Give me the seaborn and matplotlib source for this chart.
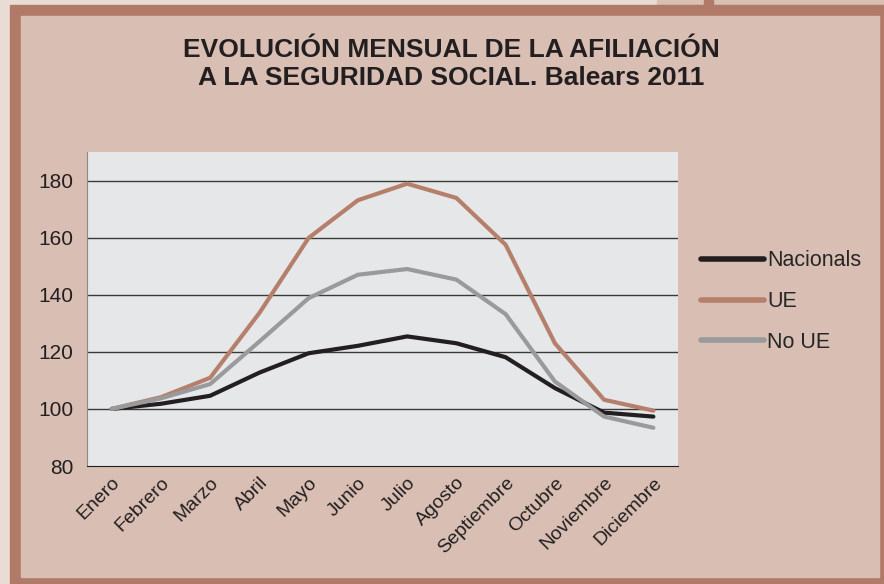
import matplotlib
matplotlib.use("Agg")
from matplotlib import pyplot as plt
from matplotlib.patches import Rectangle
import pandas as pd
import seaborn as sns

meses = ['Enero', 'Febrero', 'Marzo', 'Abril', 'Mayo', 'Junio', 'Julio',
         'Agosto', 'Septiembre', 'Octubre', 'Noviembre', 'Diciembre']
nacionals = [100, 101.8, 104.6, 112.7, 119.5, 122.1, 125.4, 123.0, 118.1, 107.3, 98.7, 97.3]
ue = [100, 104.1, 110.9, 133.6, 159.9, 173.1, 178.9, 173.9, 157.5, 123.0, 103.2, 99.4]
no_ue = [100, 103.7, 108.7, 123.6, 138.8, 147.0, 149.0, 145.3, 133.2, 109.6, 97.3, 93.4]
series = ['Nacionals', 'UE', 'No UE']
colores = ['#231f20', '#b57f6c', '#999a9c']

df = pd.DataFrame({'mes': meses * 3,
                   'valor': nacionals + ue + no_ue,
                   'serie': [s for s in series for _ in meses]})

sns.set_style('white')
plt.rcParams['font.family'] = ['Liberation Sans', 'DejaVu Sans']

fig = plt.figure(figsize=(8.84, 5.84), dpi=100)
fig.patch.set_facecolor('#e9dcd4')

W, H = 884, 584
def px_rect(x0, y0, x1, y1, color):
    fig.patches.append(Rectangle((x0 / W, 1 - y1 / H), (x1 - x0) / W, (y1 - y0) / H,
                                 transform=fig.transFigure, color=color, zorder=-10))

# marco
px_rect(657, 0, 884, 6, '#dabfb3')
px_rect(704, 0, 713, 6, '#b07a68')
px_rect(10, 5, 884, 584, '#b07a68')
px_rect(21, 16, 879, 577, '#d9bfb3')

ax = fig.add_axes([87 / W, 1 - 466 / H, (678 - 87) / W, (466 - 152) / H])
ax.set_facecolor('#e6e7e8')
sns.lineplot(data=df, x='mes', y='valor', hue='serie', hue_order=series,
             palette=colores, linewidth=3, sort=False, ax=ax, legend=False)

ax.set_xlim(-0.5, 11.5)
ax.set_ylim(80, 190)
ax.set_yticks([80, 100, 120, 140, 160, 180])
for v in [100, 120, 140, 160, 180]:
    ax.axhline(v, color='#3a3a3a', linewidth=1, zorder=0.5)
ax.set_xlabel('')
ax.set_ylabel('')
ax.tick_params(length=0, labelsize=15, colors='#231f20')
ax.tick_params(axis='y', pad=10)
ax.tick_params(axis='x', labelsize=14, pad=6)
plt.setp(ax.get_xticklabels(), rotation=45, ha='right', rotation_mode='anchor')
for s in ['top', 'right']:
    ax.spines[s].set_visible(False)
ax.spines['left'].set_color('#8a8a8a')
ax.spines['bottom'].set_color('#231f20')

handles = [plt.Line2D([], [], color=c, linewidth=4, solid_capstyle='round') for c in colores]
fig.legend(handles, series, loc='upper left', bbox_to_anchor=(682 / W, 1 - 231 / H),
           frameon=False, fontsize=15.5, handlelength=2.9, handletextpad=0.15,
           labelspacing=0.92)

fig.text(451 / W, 1 - 64 / H, 'EVOLUCIÓN MENSUAL DE LA AFILIACIÓN\nA LA SEGURIDAD SOCIAL. Balears 2011',
         ha='center', va='center', fontsize=19, fontweight='bold', color='#231f20',
         linespacing=1.2)

fig.savefig('out.png', dpi=100)
